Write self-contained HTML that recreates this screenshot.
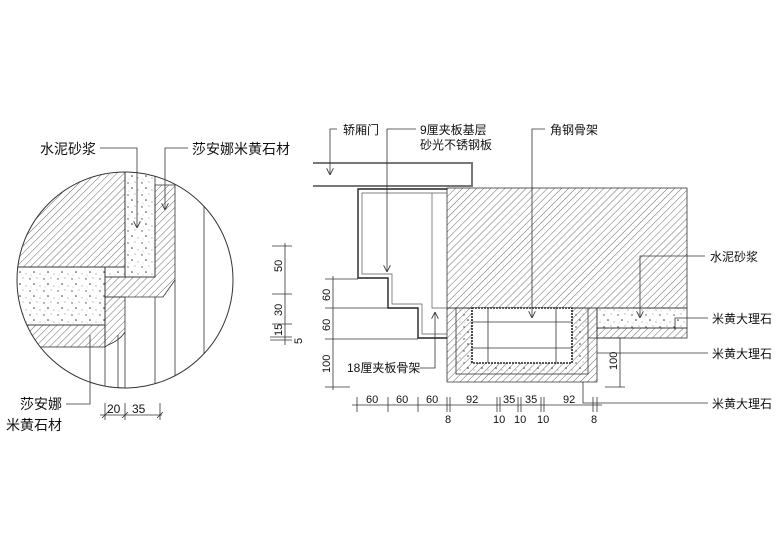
<!DOCTYPE html>
<html><head><meta charset="utf-8"><style>
html,body{margin:0;padding:0;background:#fff;}
svg{display:block;}
text{font-family:"Liberation Sans","Noto Sans CJK SC",sans-serif;fill:#111;}
</style></head><body>
<svg width="780" height="551" viewBox="0 0 780 551" xmlns="http://www.w3.org/2000/svg">
<defs>
<pattern id="h" width="5" height="5" patternUnits="userSpaceOnUse" patternTransform="rotate(45)">
<line x1="0" y1="0" x2="0" y2="5" stroke="#444" stroke-width="0.8"/></pattern>
<pattern id="m" width="14" height="12" patternUnits="userSpaceOnUse">
<circle cx="2" cy="3" r="0.7" fill="#444"/><circle cx="9" cy="2" r="0.5" fill="#666"/>
<circle cx="6" cy="8" r="0.8" fill="#333"/><circle cx="12" cy="10" r="0.5" fill="#555"/>
<circle cx="3" cy="11" r="0.4" fill="#777"/></pattern>
<clipPath id="c"><circle cx="125" cy="280" r="108"/></clipPath>
<marker id="a" viewBox="0 0 10 10" refX="10" refY="5" markerWidth="7" markerHeight="7" markerUnits="userSpaceOnUse" orient="auto">
<path d="M0,0 L10,5 L0,10" fill="none" stroke="#333" stroke-width="1.2"/></marker>
</defs>

<!-- circle detail -->
<g clip-path="url(#c)" stroke="#333" stroke-width="0.8">
<rect x="10" y="165" width="115" height="102" fill="url(#h)"/>
<rect x="125" y="165" width="30" height="112" fill="url(#m)"/>
<rect x="10" y="267" width="95" height="58" fill="url(#m)"/>
<rect x="105" y="267" width="20" height="10" fill="url(#m)"/>
<path d="M155,185 L175,185 L175,280 L163,297 L105,297 L105,277 L155,277 Z" fill="url(#h)"/>
<path d="M105,297 L125,297 L125,332 Q120,340 108,345 L105,347 Z" fill="url(#h)"/>
<rect x="10" y="325" width="95" height="22" fill="url(#h)"/>
<line x1="105" y1="347" x2="105" y2="395"/><line x1="118" y1="335" x2="118" y2="395"/>
<line x1="125" y1="332" x2="125" y2="395"/><line x1="155" y1="297" x2="155" y2="395"/>
<line x1="175" y1="280" x2="175" y2="395"/><line x1="204" y1="205" x2="204" y2="395"/>
</g>
<circle cx="125" cy="280" r="108" fill="none" stroke="#333" stroke-width="1"/>
<g stroke="#333" stroke-width="0.8" fill="none">
<polyline points="100,148 137,148 137,228" marker-end="url(#a)"/>
<polyline points="188,148 165,148 165,210" marker-end="url(#a)"/>
<polyline points="66,404 90,404 90,335"/>
<line x1="100" y1="415" x2="162" y2="415"/>
<line x1="105" y1="403" x2="105" y2="420"/><line x1="125" y1="403" x2="125" y2="420"/><line x1="160" y1="403" x2="160" y2="420"/>
<line x1="102" y1="418" x2="108" y2="412"/><line x1="122" y1="418" x2="128" y2="412"/><line x1="157" y1="418" x2="163" y2="412"/>
</g>
<text x="40" y="154" font-size="14">水泥砂浆</text>
<text x="192" y="154" font-size="14">莎安娜米黄石材</text>
<text x="20" y="409" font-size="14">莎安娜</text>
<text x="6" y="430" font-size="14">米黄石材</text>
<text x="107" y="413" font-size="12">20</text>
<text x="132" y="413" font-size="12">35</text>

<!-- right section -->
<g stroke="#333" stroke-width="0.8">
<rect x="447" y="188" width="240" height="120" fill="url(#h)"/>
<path d="M447,308 L597,308 L597,382 L447,382 Z" fill="url(#h)"/>
<rect x="456" y="308" width="132" height="66" fill="url(#m)"/>
<rect x="472" y="308" width="100" height="55" fill="#fff" stroke="#222" stroke-width="1.6" stroke-dasharray="2,1"/>
<line x1="488" y1="308" x2="488" y2="363"/><line x1="556" y1="308" x2="556" y2="363"/>
<line x1="472" y1="322" x2="572" y2="322"/><line x1="472" y1="348" x2="572" y2="348"/>
<rect x="597" y="308" width="90" height="20" fill="url(#m)"/>
<rect x="597" y="328" width="90" height="10" fill="url(#h)"/>
</g>
<!-- door -->
<g fill="none" stroke="#777" stroke-width="2">
<polyline points="313,163 472,163 472,186 313,186"/>
</g>
<!-- stepped panel -->
<g fill="none" stroke="#222" stroke-width="1.4">
<polyline points="447,189 358,189 358,278 388,278 388,308 418,308 418,338 447,338"/>
</g>
<g fill="none" stroke="#555" stroke-width="0.7">
<polyline points="447,193 362,193 362,274 392,274 392,304 422,304 422,334 447,334"/>
<polyline points="432,193 432,308 447,308"/>
</g>
<!-- leaders -->
<g stroke="#333" stroke-width="0.8" fill="none">
<polyline points="337,129 330,129 330,175" marker-end="url(#a)"/>
<polyline points="416,129 387,129 387,272" marker-end="url(#a)"/>
<polyline points="545,129 532,129 532,318" marker-end="url(#a)"/>
<polyline points="705,256 640,256 640,318" marker-end="url(#a)"/>
<polyline points="708,318 675,318 675,330"/>
<polyline points="708,353 597,353"/>
<polyline points="708,403 583,403 583,382"/>
<polyline points="420,368 435,368 435,312" marker-end="url(#a)"/>
<polyline points="588,338 620,338 620,387"/>
<line x1="605" y1="338" x2="625" y2="338"/><line x1="605" y1="387" x2="625" y2="387"/>
<line x1="285" y1="243" x2="285" y2="345"/>
<line x1="272" y1="246" x2="292" y2="246"/><line x1="272" y1="294" x2="292" y2="294"/>
<line x1="272" y1="324" x2="292" y2="324"/><line x1="270" y1="337" x2="292" y2="337"/><line x1="270" y1="340" x2="292" y2="340"/>
<line x1="333" y1="276" x2="333" y2="390"/>
<line x1="325" y1="279" x2="358" y2="279"/><line x1="325" y1="308" x2="388" y2="308"/>
<line x1="325" y1="339" x2="418" y2="339"/><line x1="325" y1="387" x2="350" y2="387"/>
<line x1="352" y1="405" x2="602" y2="405"/>
<g>
<line x1="357" y1="397" x2="357" y2="412"/><line x1="388" y1="397" x2="388" y2="412"/><line x1="418" y1="397" x2="418" y2="412"/>
<line x1="447" y1="397" x2="447" y2="412"/><line x1="450" y1="397" x2="450" y2="412"/>
<line x1="497" y1="397" x2="497" y2="412"/><line x1="500" y1="397" x2="500" y2="412"/>
<line x1="518" y1="397" x2="518" y2="412"/><line x1="521" y1="397" x2="521" y2="412"/>
<line x1="541" y1="397" x2="541" y2="412"/><line x1="544" y1="397" x2="544" y2="412"/>
<line x1="593" y1="397" x2="593" y2="412"/><line x1="597" y1="397" x2="597" y2="412"/>
</g>
</g>
<text x="343" y="134" font-size="12">轿厢门</text>
<text x="420" y="134" font-size="12">9厘夹板基层</text>
<text x="420" y="149" font-size="12">砂光不锈钢板</text>
<text x="550" y="134" font-size="12">角钢骨架</text>
<text x="710" y="261" font-size="12">水泥砂浆</text>
<text x="712" y="323" font-size="12">米黄大理石</text>
<text x="712" y="358" font-size="12">米黄大理石</text>
<text x="712" y="408" font-size="12">米黄大理石</text>
<text x="347" y="372" font-size="12">18厘夹板骨架</text>
<g font-size="11">
<text transform="translate(282,272) rotate(-90)">50</text>
<text transform="translate(282,316) rotate(-90)">30</text>
<text transform="translate(282,336) rotate(-90)">15</text>
<text transform="translate(302,344) rotate(-90)">5</text>
<text transform="translate(330,301) rotate(-90)">60</text>
<text transform="translate(330,331) rotate(-90)">60</text>
<text transform="translate(330,373) rotate(-90)">100</text>
<text transform="translate(617,370) rotate(-90)">100</text>
<text x="366" y="403">60</text><text x="396" y="403">60</text><text x="426" y="403">60</text>
<text x="466" y="403">92</text><text x="503" y="403">35</text><text x="525" y="403">35</text><text x="563" y="403">92</text>
<text x="445" y="423">8</text><text x="493" y="423">10</text><text x="514" y="423">10</text><text x="537" y="423">10</text><text x="591" y="423">8</text>
</g>
</svg>
</body></html>
